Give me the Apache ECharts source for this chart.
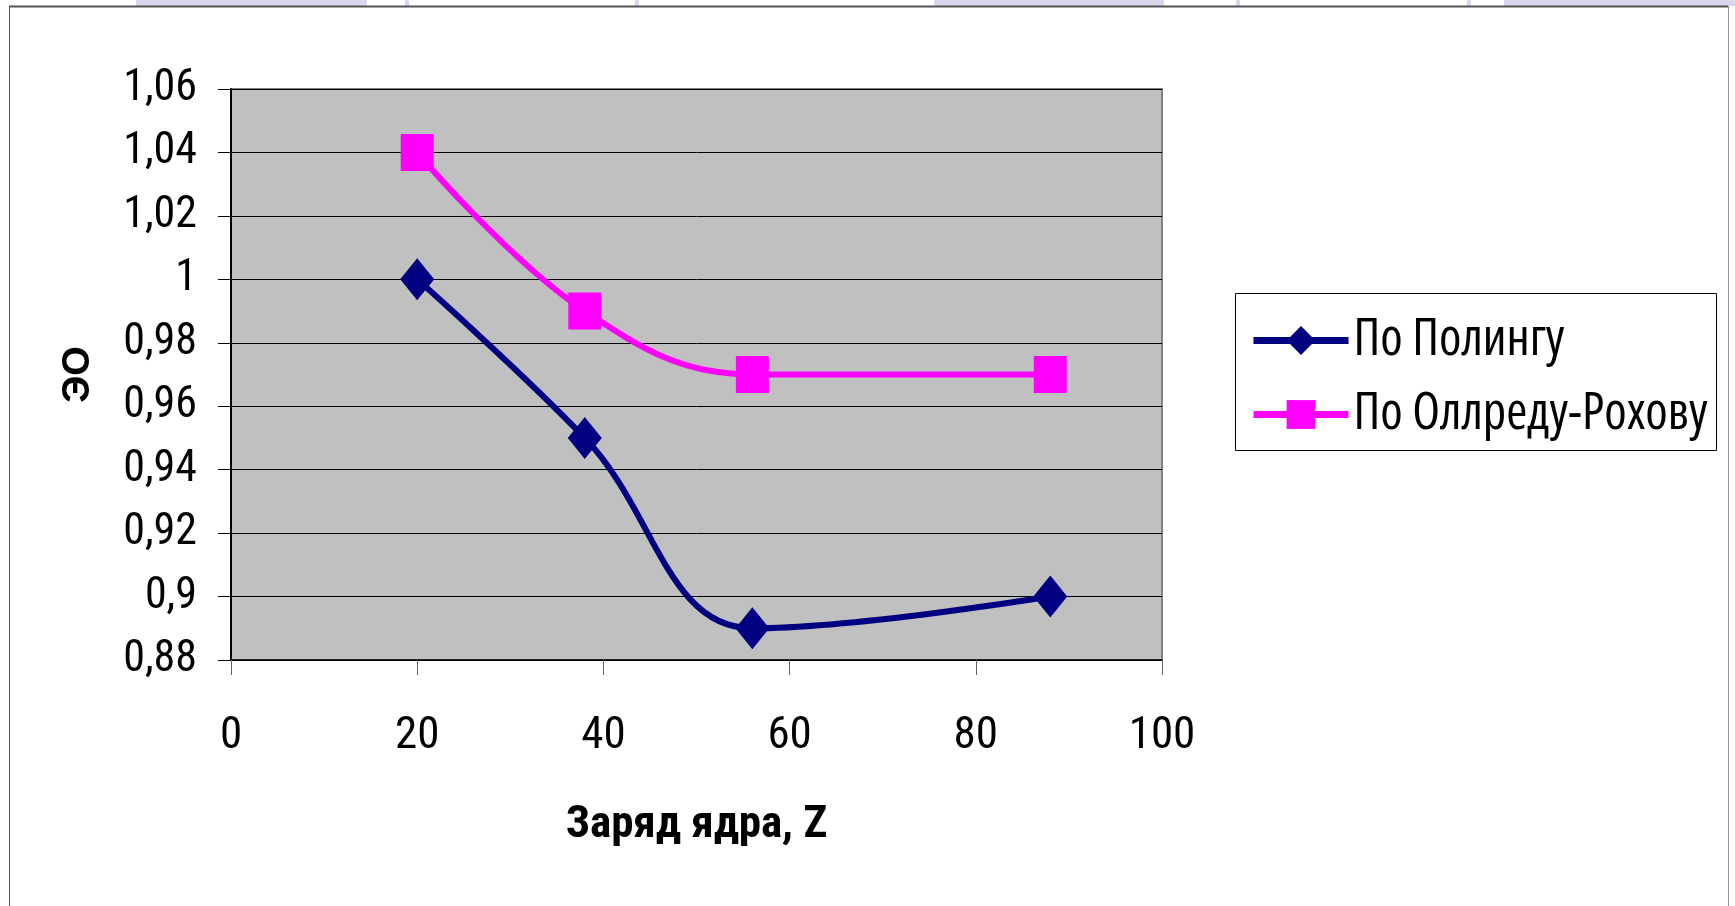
<!DOCTYPE html>
<html>
<head>
<meta charset="utf-8">
<title>ЭО</title>
<script src="https://cdn.jsdelivr.net/npm/echarts@6/dist/echarts.min.js"></script>
<style>
  html, body { margin: 0; padding: 0; background: #ffffff; }
  #chart { width: 1735px; height: 906px; }
</style>
</head>
<body>
<div id="chart"></div>
<script>
// Nuclear charge Z of the alkaline-earth elements (Ca, Sr, Ba, Ra)
const chargeZ = [20, 38, 56, 88];
// Electronegativity, Pauling scale
const paulingEN = [1.00, 0.95, 0.89, 0.90];
// Electronegativity, Allred–Rochow scale
const allredRochowEN = [1.04, 0.99, 0.97, 0.97];

const seriesNames = ['По Полингу', 'По Оллреду-Рохову'];
const xAxisTitle = 'Заряд ядра, Z';
const yAxisTitle = 'ЭО';

const narrow = "'Roboto Condensed', 'Liberation Sans Narrow', 'Arial Narrow', sans-serif";

function pairs(xs, ys) {
  return xs.map((x, i) => [x, ys[i]]);
}

// "1,06", "1", "0,9" — decimal comma, no trailing zeros
function commaLabel(v) {
  const s = String(Math.round(v * 100) / 100);
  return s.replace('.', ',');
}

const chart = echarts.init(document.getElementById('chart'), null, { renderer: 'canvas' });

chart.setOption({
  backgroundColor: '#ffffff',
  animation: false,
  graphic: [
    // tabs peeking above the frame
    { type: 'rect', shape: { x: 136, y: 0, width: 231, height: 6 }, style: { fill: '#d9d7ee' } },
    { type: 'rect', shape: { x: 405, y: 0, width: 4, height: 6 }, style: { fill: '#d9d7ee' } },
    { type: 'rect', shape: { x: 635, y: 0, width: 4, height: 6 }, style: { fill: '#d9d7ee' } },
    { type: 'rect', shape: { x: 934, y: 0, width: 230, height: 6 }, style: { fill: '#d9d7ee' } },
    { type: 'rect', shape: { x: 1236, y: 0, width: 4, height: 6 }, style: { fill: '#d9d7ee' } },
    { type: 'rect', shape: { x: 1467, y: 0, width: 4, height: 6 }, style: { fill: '#d9d7ee' } },
    { type: 'rect', shape: { x: 1504, y: 0, width: 231, height: 6 }, style: { fill: '#d9d7ee' } },
    // chart frame
    { type: 'line', shape: { x1: 9, y1: 6.5, x2: 1728, y2: 6.5 }, style: { stroke: '#555555', lineWidth: 2 } },
    { type: 'line', shape: { x1: 9.5, y1: 6, x2: 9.5, y2: 906 }, style: { stroke: '#555555', lineWidth: 1 } },
    { type: 'line', shape: { x1: 1728.5, y1: 6, x2: 1728.5, y2: 906 }, style: { stroke: '#9a9a9a', lineWidth: 1 } },
    // legend box
    { type: 'rect', z: 0, shape: { x: 1235.5, y: 293.5, width: 481, height: 157 },
      style: { fill: '#ffffff', stroke: '#000000', lineWidth: 1 } }
  ],
  grid: {
    left: 231, right: 573, top: 89, bottom: 246,
    show: true,
    backgroundColor: '#c0c0c0',
    borderColor: '#808080',
    borderWidth: 2
  },
  legend: {
    orient: 'vertical',
    left: 1250,
    top: 315,
    itemWidth: 95,
    itemHeight: 36,
    itemGap: 23,
    padding: 0,
    selectedMode: false,
    lineStyle: { width: 7 },
    textStyle: {
      fontFamily: "'Open Sans', sans-serif",
      fontStyle: 'normal',
      fontWeight: 'condensed',
      fontSize: 51,
      color: '#000000',
      lineHeight: 50,
      padding: [0, 0, 0, 0]
    },
    data: seriesNames
  },
  xAxis: {
    type: 'value',
    min: 0, max: 100, interval: 20,
    name: xAxisTitle,
    nameLocation: 'middle',
    nameGap: 143,
    nameTextStyle: { fontFamily: narrow, fontSize: 45, fontWeight: 'bold', color: '#000000' },
    axisLine: { show: true, onZero: false, lineStyle: { color: '#000000', width: 1.5 } },
    axisTick: { show: true, inside: false, length: 15, lineStyle: { color: '#666666', width: 1 } },
    axisLabel: { margin: 54, fontFamily: narrow, fontSize: 45, color: '#000000' },
    splitLine: { show: false }
  },
  yAxis: {
    type: 'value',
    min: 0.88, max: 1.06, interval: 0.02,
    name: yAxisTitle,
    nameLocation: 'middle',
    nameGap: 133,
    nameTextStyle: { fontFamily: "'Liberation Sans', Arial, sans-serif", fontSize: 38, fontWeight: 'bold', color: '#000000' },
    axisLine: { show: true, lineStyle: { color: '#000000', width: 2 } },
    axisTick: { show: true, inside: false, length: 13, lineStyle: { color: '#000000', width: 1 } },
    axisLabel: { margin: 34, fontFamily: narrow, fontSize: 44, color: '#000000', formatter: commaLabel },
    splitLine: { show: true, lineStyle: { color: '#000000', width: 1 } }
  },
  series: [
    {
      name: seriesNames[0],
      type: 'line',
      smooth: 0.4,
      data: pairs(chargeZ, paulingEN),
      symbol: 'diamond',
      symbolSize: [34, 42],
      lineStyle: { color: '#000080', width: 6 },
      itemStyle: { color: '#000080' },
      z: 3
    },
    {
      name: seriesNames[1],
      type: 'line',
      smooth: 0.4,
      data: pairs(chargeZ, allredRochowEN),
      symbol: 'rect',
      symbolSize: [33, 37],
      lineStyle: { color: '#ff00ff', width: 6 },
      itemStyle: { color: '#ff00ff' },
      z: 3
    }
  ]
});
</script>
</body>
</html>
